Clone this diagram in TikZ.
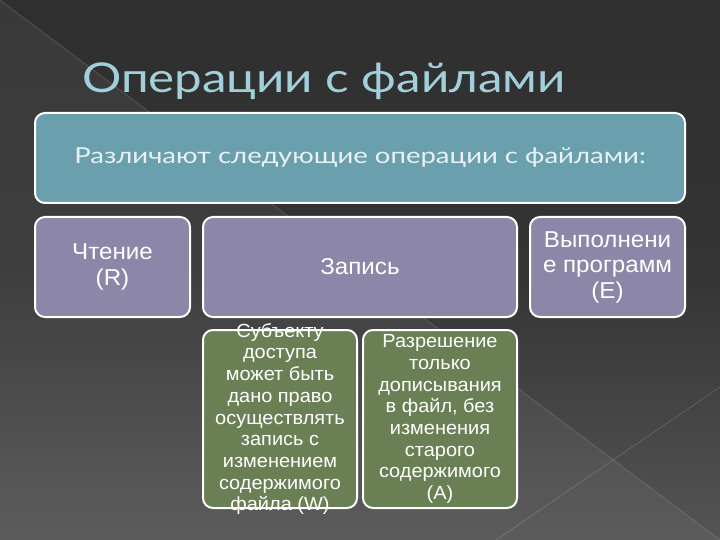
\documentclass[tikz,border=0pt]{standalone}
\usepackage{fontspec}
\setmainfont[FakeStretch=1.05]{Liberation Sans}
\newfontfamily\gothic[FakeStretch=1.25]{Lato}
\newfontfamily\gothict[FakeStretch=1.2]{Lato}
\definecolor{topfill}{RGB}{106,159,174}
\definecolor{purfill}{RGB}{140,135,168}
\definecolor{grnfill}{RGB}{107,127,85}
\definecolor{titlecol}{RGB}{162,208,218}
\definecolor{toptext}{RGB}{232,242,242}
\definecolor{bgtop}{RGB}{42,42,42}
\definecolor{bgmid}{RGB}{52,52,52}
\definecolor{bgbot}{RGB}{116,116,116}
\pgfdeclareverticalshading{bgshade}{100bp}{
  color(0bp)=(bgbot); color(50bp)=(bgmid); color(100bp)=(bgtop)}
\tikzset{
  box/.style={draw=white, line width=2pt, rounded corners=10pt, inner sep=0pt, align=center},
  topbox/.style={box, fill=topfill, text=toptext, font=\gothic\fontsize{22}{26}\selectfont},
  purbox/.style={box, fill=purfill, text=white, font=\fontsize{23}{25.5}\selectfont},
  grnbox/.style={box, fill=grnfill, text=white, font=\fontsize{19}{21.7}\selectfont},
  grntext/.style={text=white, align=center, inner sep=0pt, font=\fontsize{19}{21.7}\selectfont},
  deco/.style={white, opacity=0.12, line width=1pt}
}
\begin{document}
\begin{tikzpicture}[x=1pt, y=-1pt]
\useasboundingbox (0,0) rectangle (720,540);
\shade[shading=bgshade] (0,0) rectangle (720,540);
\fill[white, opacity=0.05] (0,0) -- (720,540) -- (0,540) -- cycle;
\coordinate (d1) at (0,0);
\coordinate (d2) at (720,540);
\coordinate (d3) at (720,387);
\coordinate (d4) at (496,540);
\draw[deco] (d1) -- (d2);
\draw[deco] (d3) -- (d4);
\node[text=titlecol, font=\gothict\fontsize{41}{46}\selectfont, anchor=base west, inner sep=0pt] (title) at (82,93) {Операции с файлами};
\node[topbox, minimum width=650pt, minimum height=90pt] (top) at (360,158) {Различают следующие операции с файлами:};
\node[purbox, minimum width=155pt, minimum height=100pt] (r) at (112.5,267) {Чтение\\(R)};
\node[purbox, minimum width=314pt, minimum height=100pt] (zap) at (360,267) {Запись};
\node[purbox, minimum width=155pt, minimum height=100pt] (e) at (607.5,267) {Выполнени\\е программ\\(E)};
\node[grnbox, minimum width=154pt, minimum height=178pt,
  label={[grntext]center:Субъекту\\доступа\\может быть\\дано право\\осуществлять\\запись с\\изменением\\содержимого\\файла (W)}] (w) at (280,419) {};
\node[grnbox, minimum width=154pt, minimum height=178pt] (a) at (440,419) {Разрешение\\только\\дописывания\\в файл, без\\изменения\\старого\\содержимого\\(A)};
\end{tikzpicture}
\end{document}
